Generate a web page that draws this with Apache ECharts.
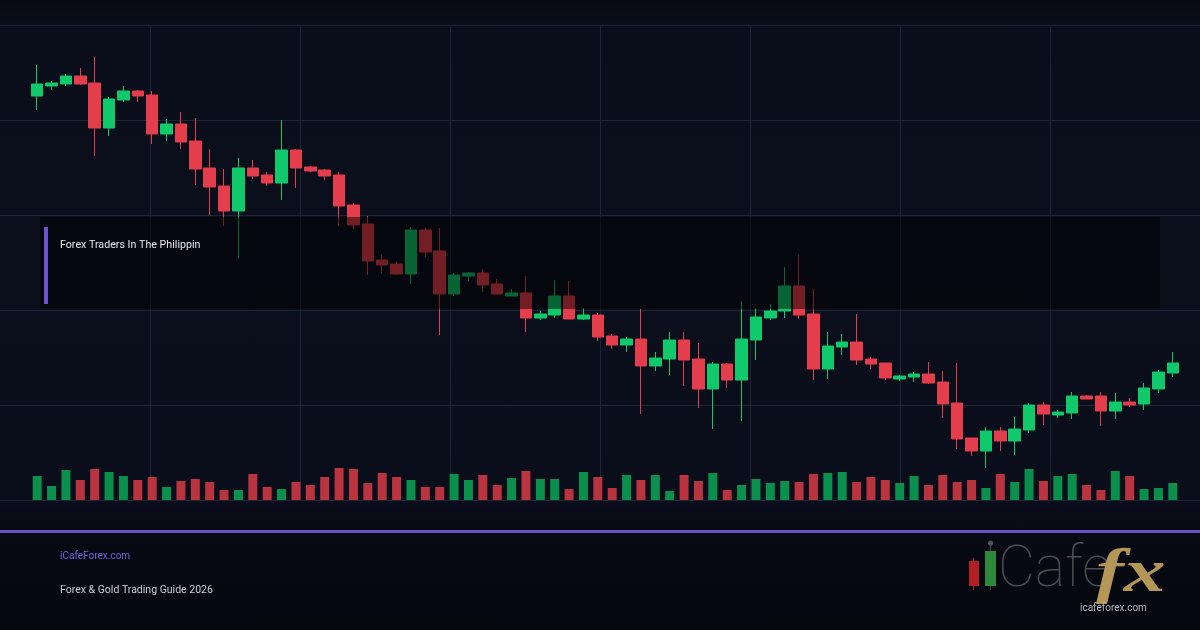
<!DOCTYPE html>
<html><head><meta charset="utf-8">
<script src="https://cdn.jsdelivr.net/npm/echarts@6/dist/echarts.min.js"></script>
<style>
html,body{margin:0;padding:0;width:1200px;height:630px;overflow:hidden;
background:linear-gradient(to bottom,#070a13 0px,#0a0e1a 25px,#0b0f1c 220px,#0a0d1a 500px,#080a14 530px,#05070d 630px);}
#c{width:1200px;height:630px;}
</style></head><body><div id="c"></div>
<script>
const categories = ["1","2","3","4","5","6","7","8","9","10","11","12","13","14","15","16","17","18","19","20",
"21","22","23","24","25","26","27","28","29","30","31","32","33","34","35","36","37","38","39","40",
"41","42","43","44","45","46","47","48","49","50","51","52","53","54","55","56","57","58","59","60",
"61","62","63","64","65","66","67","68","69","70","71","72","73","74","75","76","77","78","79","80"];
const opens  = [2404,2414,2416,2424,2417,2372,2400,2409,2405,2366,2376,2359,2332,2314,2289,2332,2325,2317,2350,2333,
2330,2325,2295,2276,2240,2236,2226,2270,2249,2206,2224,2227,2216,2204,2207,2182,2185,2204,2181,2185,
2164,2155,2161,2134,2141,2160,2141,2111,2136,2120,2160,2182,2189,2214,2186,2131,2153,2158,2141,2137,
2121,2123,2126,2118,2097,2062,2049,2069,2059,2070,2095,2085,2087,2104,2104,2089,2098,2096,2111,2127];
const closes = [2416,2417,2424,2416,2372,2401,2409,2404,2366,2376,2358,2331,2313,2289,2332,2324,2317,2350,2332,2329,
2324,2294,2275,2239,2235,2226,2270,2248,2206,2225,2227,2215,2206,2207,2182,2186,2204,2181,2185,2163,
2155,2161,2134,2142,2160,2140,2111,2136,2120,2161,2183,2189,2214,2185,2131,2154,2158,2140,2136,2122,
2124,2126,2117,2096,2061,2049,2069,2059,2071,2095,2086,2088,2104,2101,2089,2098,2095,2112,2128,2137];
const lows   = [2390,2410,2414,2415,2344,2364,2398,2398,2356,2359,2351,2315,2285,2274,2241,2321,2314,2300,2312,2328,
2320,2274,2271,2225,2227,2225,2216,2243,2165,2204,2219,2208,2206,2204,2168,2180,2182,2181,2180,2159,
2151,2148,2086,2129,2125,2114,2092,2071,2112,2079,2140,2180,2182,2181,2120,2121,2145,2135,2131,2120,
2119,2118,2116,2082,2051,2044,2032,2049,2045,2067,2075,2082,2081,2101,2074,2081,2093,2090,2107,2123];
const highs  = [2435,2419,2426,2432,2443,2403,2414,2410,2409,2381,2388,2382,2351,2331,2342,2340,2328,2380,2351,2334,
2331,2328,2297,2284,2245,2238,2273,2272,2272,2227,2228,2231,2221,2211,2224,2189,2220,2219,2192,2187,
2166,2163,2191,2148,2168,2168,2157,2138,2137,2199,2192,2196,2233,2245,2211,2168,2166,2186,2143,2137,
2125,2128,2138,2129,2137,2062,2073,2073,2083,2097,2098,2090,2108,2105,2108,2107,2102,2117,2130,2148];
const volumes = [2400,1400,3000,2000,3100,2800,2400,2000,2300,1300,1900,2100,1800,1000,1000,2600,1300,1100,1800,1500,
2300,3200,3100,1700,2700,2300,2000,1300,1300,2600,2000,2500,1500,2200,2900,2100,2100,1100,2800,2300,
1200,2500,2000,2500,900,2500,1900,2700,1000,1500,2100,1700,1900,1800,2600,2700,2800,1800,2300,2000,
1700,2400,1500,2500,1800,2000,1200,2600,1800,3100,1900,2400,2600,1500,1000,2900,2400,1100,1200,1700];
const headline = "Forex Traders In The Philippin";
const siteName = "iCafeForex.com";
const subtitle = "Forex & Gold Trading Guide 2026";
const logoUrlText = "icafeforex.com";

const UP = '#10c96a', DOWN = '#e43d4b';
const VUP = '#0a8f4c', VDOWN = '#b9343e';
const GRID = '#1f2538';

const candleData = categories.map((c, i) => [opens[i], closes[i], lows[i], highs[i]]);
const volData = categories.map((c, i) => ({
  value: volumes[i],
  itemStyle: { color: closes[i] >= opens[i] ? VUP : VDOWN }
}));

const chart = echarts.init(document.getElementById('c'), null, { renderer: 'canvas' });
const hidden = { axisLine:{show:false}, axisTick:{show:false}, axisLabel:{show:false}, splitLine:{show:false} };
chart.setOption({
  animation: false,
  backgroundColor: 'transparent',
  grid: [
    { left: 30, right: 20, top: 25, height: 475 },
    { left: 30, right: 20, top: 400, height: 100 },
    { left: 0, right: 0, top: 25, height: 475 }
  ],
  xAxis: [
    Object.assign({ type: 'category', gridIndex: 0, data: categories, boundaryGap: true }, hidden),
    Object.assign({ type: 'category', gridIndex: 1, data: categories, boundaryGap: true }, hidden),
    { type: 'value', gridIndex: 2, min: 0, max: 1200, interval: 150,
      axisLine:{show:false}, axisTick:{show:false}, axisLabel:{show:false},
      splitLine:{show:true, showMinLine:false, showMaxLine:false, lineStyle:{color:GRID, width:1}} }
  ],
  yAxis: [
    Object.assign({ type: 'value', gridIndex: 0, min: 2000, max: 2475 }, hidden),
    Object.assign({ type: 'value', gridIndex: 1, min: 0, max: 10000 }, hidden),
    { type: 'value', gridIndex: 2, min: 0, max: 475, interval: 95,
      axisLine:{show:false}, axisTick:{show:false}, axisLabel:{show:false},
      splitLine:{show:true, lineStyle:{color:GRID, width:1}} }
  ],
  series: [
    { type: 'bar', xAxisIndex: 1, yAxisIndex: 1, data: volData, barWidth: 9, z: 2 },
    { type: 'candlestick', xAxisIndex: 0, yAxisIndex: 0, data: candleData, barWidth: 12, z: 3,
      itemStyle: { color: UP, color0: DOWN, borderColor: UP, borderColor0: DOWN, borderWidth: 1 } }
  ],
  graphic: [
    { type: 'rect', z: 50, shape: { x: 40, y: 217, width: 1120, height: 92 },
      style: { fill: 'rgba(0,0,0,0.5)' } },
    { type: 'rect', z: 51, shape: { x: 44, y: 227, width: 4, height: 77 }, style: { fill: '#6c52cc' } },
    { type: 'text', z: 52, x: 60, y: 245, scaleX: 0.97,
      style: { text: headline, fill: '#e8e8ec', font: '11px Roboto', verticalAlign: 'middle' } },
    { type: 'rect', z: 50, shape: { x: 0, y: 530, width: 1200, height: 3 }, style: { fill: '#6a50c8' } },
    { type: 'text', z: 52, x: 60, y: 556, scaleX: 0.91,
      style: { text: siteName, fill: '#7b61e0', font: '11px Roboto', verticalAlign: 'middle' } },
    { type: 'text', z: 52, x: 60, y: 590.5, scaleX: 0.955,
      style: { text: subtitle, fill: '#cfcfd4', font: '11px Roboto', verticalAlign: 'middle' } },
    // logo
    { type: 'line', z: 52, shape: { x1: 973.5, y1: 558, x2: 973.5, y2: 590 }, style: { stroke: '#b41f24', lineWidth: 1 } },
    { type: 'rect', z: 53, shape: { x: 969, y: 561, width: 10, height: 25 }, style: { fill: '#b41f24' } },
    { type: 'line', z: 52, shape: { x1: 990.5, y1: 544, x2: 990.5, y2: 590 }, style: { stroke: '#444', lineWidth: 1 } },
    { type: 'circle', z: 52, shape: { cx: 990.5, cy: 543, r: 2.5 }, style: { fill: '#555' } },
    { type: 'rect', z: 53, shape: { x: 985, y: 551, width: 11, height: 35 }, style: { fill: '#2d8a3d' } },
    { type: 'text', z: 52, x: 998, y: 572,
      style: { text: 'Cafe', fill: '#4e4e52', font: '100 57px Roboto', verticalAlign: 'middle' } },
    { type: 'text', z: 53, x: 1096, y: 575, scaleX: 1.35,
      style: { text: 'fx', fill: '#b49657', font: 'italic bold 62px "Liberation Serif"', verticalAlign: 'middle' } },
    { type: 'text', z: 54, x: 1080, y: 608,
      style: { text: logoUrlText, fill: '#b8b8bc', font: '10px Roboto', verticalAlign: 'middle' } }
  ]
});
</script>
</body></html>
